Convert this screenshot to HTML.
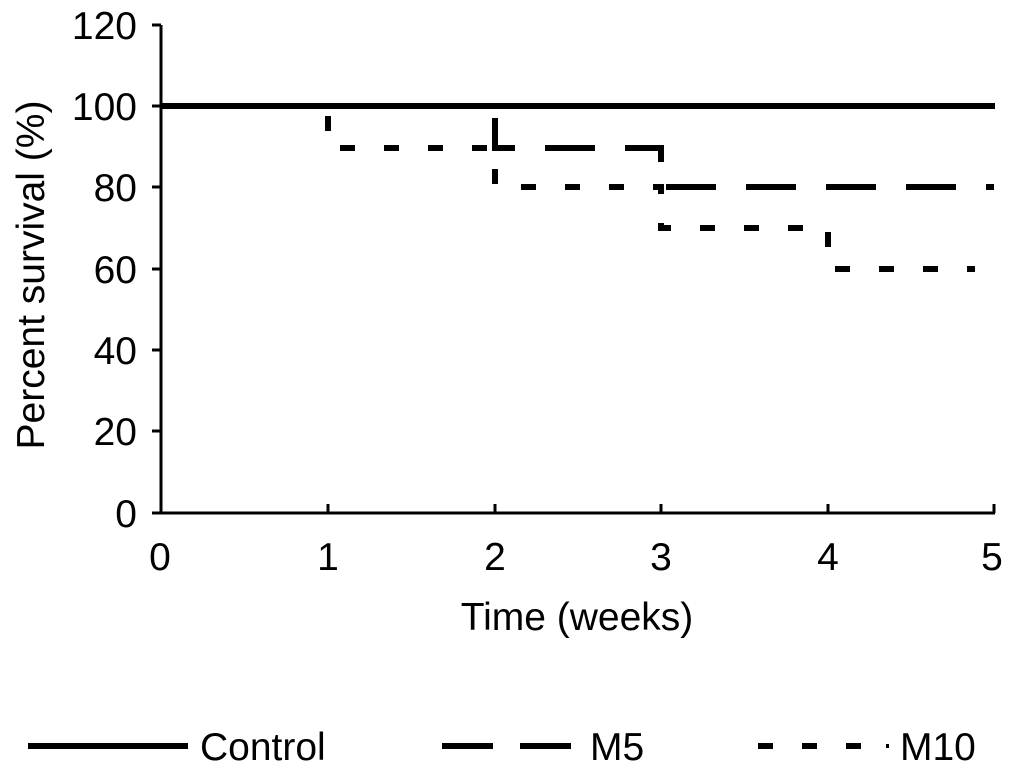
<!DOCTYPE html>
<html><head><style>body{margin:0;background:#fff}svg{display:block}</style></head><body>
<svg width="1016" height="774" xmlns="http://www.w3.org/2000/svg" font-family="Liberation Sans, Arial, sans-serif">
<g stroke="#000" stroke-width="3" fill="none">
<line x1="161" y1="25" x2="161" y2="514"/>
<line x1="160" y1="513" x2="995" y2="513"/>
<line x1="152" y1="25" x2="161" y2="25"/>
<line x1="152" y1="106" x2="161" y2="106"/>
<line x1="152" y1="187" x2="161" y2="187"/>
<line x1="152" y1="269" x2="161" y2="269"/>
<line x1="152" y1="350" x2="161" y2="350"/>
<line x1="152" y1="431" x2="161" y2="431"/>
<line x1="152" y1="513" x2="161" y2="513"/>
<line x1="328" y1="513" x2="328" y2="504"/>
<line x1="495" y1="513" x2="495" y2="504"/>
<line x1="661" y1="513" x2="661" y2="504"/>
<line x1="828" y1="513" x2="828" y2="504"/>
<line x1="994" y1="513" x2="994" y2="504"/>
</g>
<g stroke="#000" stroke-width="6" fill="none">
<path d="M161 106 H328 V148 H495 V187 H661 V228 H828 V269 H975" stroke-dasharray="15 29" stroke-dashoffset="-177"/>
<path d="M161 106 H495 V148 H661 V187 H994" stroke-dasharray="50 30" stroke-dashoffset="-346"/>
<line x1="161" y1="106" x2="995" y2="106"/>
<line x1="28" y1="746" x2="188" y2="746"/>
<line x1="442" y1="746" x2="571" y2="746" stroke-dasharray="51 27"/>
<line x1="758" y1="746" x2="861" y2="746" stroke-dasharray="15 29"/>
<line x1="886" y1="746" x2="889" y2="746" stroke-width="4"/>
</g>
<g font-size="39" fill="#000" text-anchor="end">
<text x="137" y="39">120</text><text x="137" y="120">100</text><text x="137" y="201">80</text>
<text x="137" y="283">60</text><text x="137" y="364">40</text><text x="137" y="445">20</text><text x="137" y="527">0</text>
</g>
<g font-size="39" fill="#000" text-anchor="middle">
<text x="160" y="570">0</text><text x="328" y="570">1</text><text x="495" y="570">2</text>
<text x="661" y="570">3</text><text x="828" y="570">4</text><text x="992" y="570">5</text>
<text x="577" y="630">Time (weeks)</text>
<text transform="translate(44,275) rotate(-90)">Percent survival (%)</text>
</g>
<g font-size="39" fill="#000">
<text x="200" y="760">Control</text><text x="590" y="760">M5</text><text x="900" y="760">M10</text>
</g>
</svg>
</body></html>
